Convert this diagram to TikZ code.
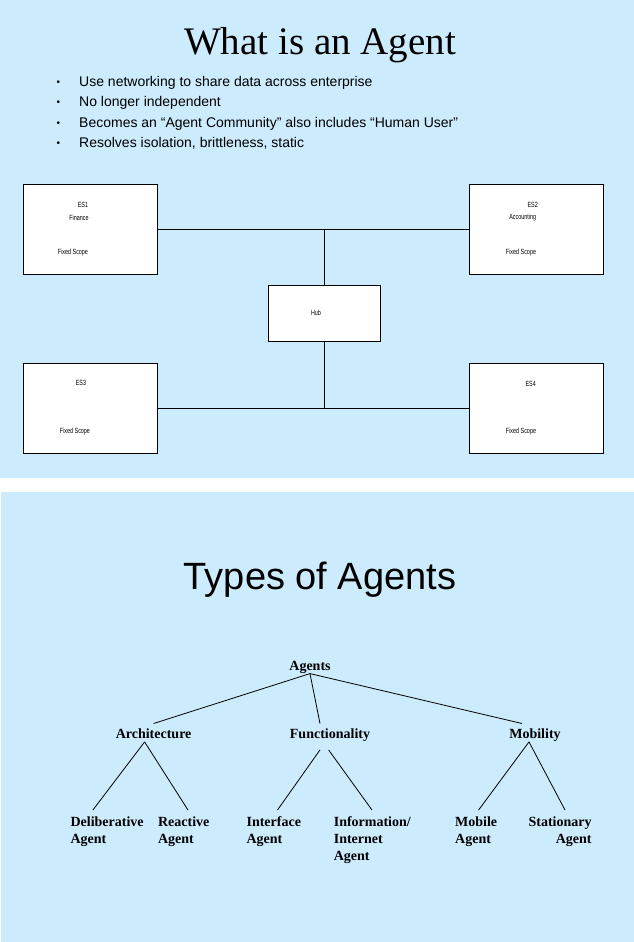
\documentclass[tikz,border=0pt]{standalone}
\usepackage{fontspec}
\setmainfont{Liberation Serif}
\setsansfont{Liberation Sans}
\newfontfamily\narrowsans[FakeStretch=0.72]{Liberation Sans}
\usepackage{tikz}
\usetikzlibrary{positioning}
\definecolor{slideblue}{RGB}{204,235,253}

\tikzset{
  esbox/.style={draw, fill=white, line width=0.8pt, minimum width=134pt, minimum height=90pt, inner sep=0pt},
  tinytext/.style={font=\narrowsans\fontsize{7.5}{8}\selectfont, inner sep=0pt},
  bullettext/.style={font=\sffamily\fontsize{14}{16}\selectfont, anchor=base west, inner sep=0pt},
  treenode/.style={font=\bfseries\fontsize{14}{16.7}\selectfont, inner sep=0pt, text height=10pt, text depth=3pt, anchor=base},
  leafnode/.style={font=\bfseries\fontsize{14}{16.7}\selectfont, inner sep=0pt, anchor=north west, align=left},
  link/.style={line width=0.8pt},
}

\begin{document}
\begin{tikzpicture}[x=1pt, y=-1pt]
    % the two slides
    \fill[white] (0,0) rectangle (634,942);
    \fill[slideblue] (0,0) rectangle (634,478);
    \fill[slideblue] (1,492) rectangle (634,942);
    \useasboundingbox (0,0) rectangle (634,942);

    % slide 1: what is an agent
    \node[font=\fontsize{39}{44}\selectfont, anchor=base, inner sep=0pt] (title1) at (320,55) {What is an Agent};

    \foreach \y/\t [count=\i] in {86.7/{Use networking to share data across enterprise},
                                  106.7/{No longer independent},
                                  127.3/{Becomes an “Agent Community” also includes “Human User”},
                                  147.3/{Resolves isolation, brittleness, static}} {
      \node[bullettext, font=\sffamily\fontsize{10}{10}\selectfont] (dot\i) at (56.5,\y-1) {•};
      \node[bullettext] (item\i) at (79,\y) {\t};
    };

    \node[esbox] (es1) at (90.3,229.3) {};
    \node[esbox] (es2) at (536.5,229.3) {};
    \node[esbox] (es3) at (90.3,408.3) {};
    \node[esbox] (es4) at (536.5,408.3) {};
    \node[esbox, minimum width=111.3pt, minimum height=56pt] (hub) at (324.3,313.7) {};

    \node[tinytext] (es1name)  at ( 83, 205) {ES1};
    \node[tinytext] (es1dept)  at ( 79, 217.7) {Finance};
    \node[tinytext] (es1scope) at ( 73, 252.7) {Fixed Scope};
    \node[tinytext] (es2name)  at (532.7, 205) {ES2};
    \node[tinytext] (es2dept)  at (522.7, 218) {Accounting};
    \node[tinytext] (es2scope) at (521, 252.7) {Fixed Scope};
    \node[tinytext] (es3name)  at ( 81, 383.3) {ES3};
    \node[tinytext] (es3scope) at ( 75, 431.7) {Fixed Scope};
    \node[tinytext] (es4name)  at (530.7, 384) {ES4};
    \node[tinytext] (es4scope) at (521, 431.7) {Fixed Scope};
    \node[tinytext] (hubname)  at (316, 312.7) {Hub};

    % bus lines through the hub
    \draw[link] (es1.east) -- (es2.west);
    \draw[link] (hub.north) -- (hub.north |- es1.east);
    \draw[link] (es3.east) -- (es4.west);
    \draw[link] (hub.south) -- (hub.south |- es3.east);

    % slide 2: types of agents
    \node[font=\sffamily\fontsize{38}{42}\selectfont, anchor=base, inner sep=0pt] (title2) at (320,589.3) {Types of Agents};

    \node[treenode] (agents) at (310, 670.4) {Agents};
    \node[treenode] (arch)   at (153.6, 738.7) {Architecture};
    \node[treenode] (func)   at (330, 738.7) {Functionality};
    \node[treenode] (mob)    at (535, 738.7) {Mobility};

    \node[leafnode] (delib)  at (70.4, 816.6) {Deliberative\\Agent};
    \node[leafnode] (react)  at (157.9, 816.6) {Reactive\\Agent};
    \node[leafnode] (iface)  at (246.4, 816.6) {Interface\\Agent};
    \node[leafnode] (info)   at (333.6, 816.6) {Information/\\Internet\\Agent};
    \node[leafnode] (mobile) at (455, 816.6) {Mobile\\Agent};
    \node[leafnode, anchor=north east, align=right] (stat) at (591.8, 816.6) {Stationary\\Agent};

    % tree edges
    \draw[link] (agents.south) -- ([yshift=5pt]arch.north);
    \draw[link] (agents.south) -- ([xshift=-10pt, yshift=5pt]func.north);
    \draw[link] (agents.south) -- ([xshift=-13pt, yshift=5pt]mob.north);

    \draw[link] ([xshift=-9pt]arch.south) -- ([xshift=22.5pt, yshift=6.6pt]delib.north west);
    \draw[link] ([xshift=-9pt]arch.south) -- ([xshift=30.1pt, yshift=6.6pt]react.north west);
    \draw[link] ([xshift=-10pt, yshift=-8pt]func.south) -- ([xshift=31.1pt, yshift=6.6pt]iface.north west);
    \draw[link] ([xshift=-1.4pt, yshift=-8pt]func.south) -- ([xshift=38.4pt, yshift=6.6pt]info.north west);
    \draw[link] ([xshift=-6pt]mob.south) -- ([xshift=23.6pt, yshift=6.6pt]mobile.north west);
    \draw[link] ([xshift=-6pt]mob.south) -- ([xshift=-26.8pt, yshift=6.6pt]stat.north east);
\end{tikzpicture}
\end{document}
